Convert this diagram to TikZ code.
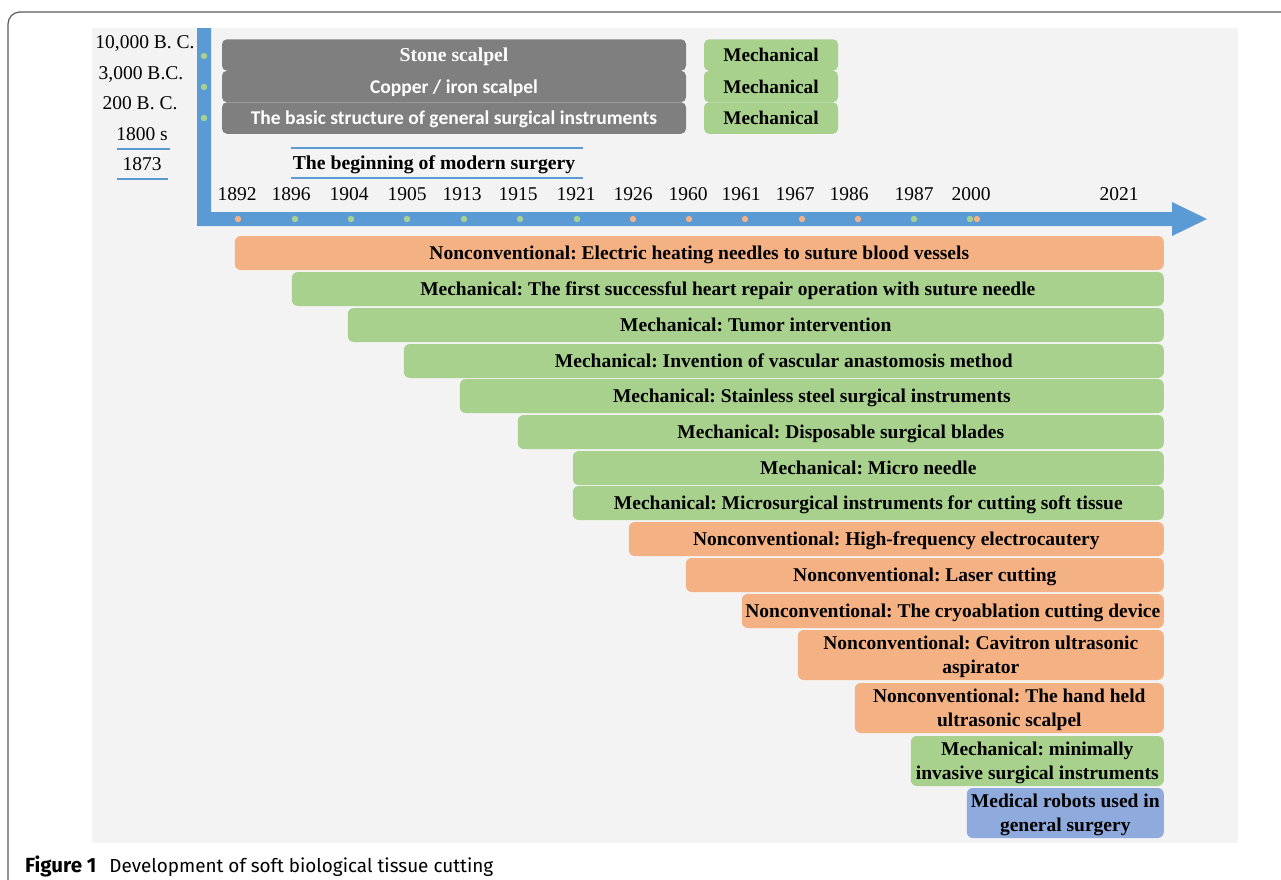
\documentclass[tikz,border=0pt]{standalone}
\usepackage{fontspec}
\setmainfont{Liberation Serif}
\newfontfamily\calib{Carlito}
\newfontfamily\capfont{Fira Sans}

\definecolor{panel}{HTML}{F3F3F3}
\definecolor{axisblue}{HTML}{5B9BD5}
\definecolor{mechgreen}{HTML}{A9D18E}
\definecolor{nonconv}{HTML}{F4B183}
\definecolor{robotblue}{HTML}{8FAADC}
\definecolor{stonegray}{HTML}{7F7F7F}
\definecolor{framegray}{HTML}{5A5A5A}

\newcommand{\barend}{1164}
\newcommand{\mbar}{\node[bar, fill=mechgreen]}
\newcommand{\nbar}{\node[bar, fill=nonconv]}
\newcommand{\rbar}{\node[bar, fill=robotblue]}
\newcommand{\gbox}{\node[erabox]}
\newcommand{\kbox}{\node[kindbox]}

\tikzset{
    bar/.style={rectangle, rounded corners=6pt, inner sep=0pt, anchor=east,
        minimum height=34pt, align=center, text depth=0pt,
        font=\fontsize{19.5}{24}\selectfont\bfseries},
    starts/.style={minimum width=\barend pt-#1pt},
    tall/.style={minimum height=50pt},
    erabox/.style={rectangle, rounded corners=5pt, fill=stonegray, text=white,
        minimum width=464pt, minimum height=31.5pt, inner sep=0pt, text depth=0pt,
        font=\fontsize{19.7}{20}\selectfont\bfseries},
    sansera/.style={font=\calib\fontsize{19.5}{20}\selectfont\bfseries},
    kindbox/.style={rectangle, rounded corners=5pt, fill=mechgreen,
        minimum width=134pt, minimum height=31.5pt, inner sep=0pt, text depth=0pt,
        font=\fontsize{19.3}{20}\selectfont\bfseries},
    yearlbl/.style={inner sep=0pt, text depth=0pt, font=\fontsize{19.5}{20}\selectfont},
    uline/.style={axisblue, line width=1.8pt},
}

\begin{document}
\frenchspacing
\begin{tikzpicture}[x=1pt, y=-1pt]
    \useasboundingbox (0,0) rectangle (1281,879);

    % frame and panel
    \draw[framegray, line width=1.2pt, rounded corners=12pt]
        (8,885) -- (8,12) -- (1290,12);
    \fill[panel] (92,28) rectangle (1238,843);

    % time axis
    \fill[axisblue] (197,28) -- (211,28) -- (211,212) -- (1172,212)
        -- (1172,202) -- (1207,219) -- (1172,236) -- (1172,226)
        -- (197,226) -- cycle;
    \foreach \y in {56,87,118}
        \fill[mechgreen] (204,\y) circle (3.2);
    \foreach \x/\c in {238/nonconv, 295/mechgreen, 351/mechgreen, 407/mechgreen,
        464/mechgreen, 520/mechgreen, 577/mechgreen, 633/nonconv, 689/nonconv,
        745/nonconv, 802/nonconv, 858/nonconv, 914/mechgreen, 970/mechgreen,
        977/nonconv}
        \fill[\c] (\x,219) circle (3.2);

    % early eras
    \node[yearlbl] (bc1) at (145,42) {10,000 B. C.};
    \node[yearlbl] (bc2) at (141,73) {3,000 B.C.};
    \node[yearlbl] (bc3) at (140,103) {200 B. C.};
    \node[yearlbl] (y1800) at (142,134) {1800 s};
    \node[yearlbl] (y1873) at (142,164) {1873};
    \draw[uline] (117,149) -- (170,149);
    \draw[uline] (117,179) -- (168,179);

    \gbox (e1) at (454,55) {Stone scalpel};
    \gbox[sansera] (e2) at (454,86.5) {Copper / iron scalpel};
    \gbox[sansera] (e3) at (454,118) {The basic structure of general surgical instruments};
    \kbox (k1) at (771,55) {Mechanical};
    \kbox (k2) at (771,86.5) {Mechanical};
    \kbox (k3) at (771,118) {Mechanical};

    \node[yearlbl, font=\fontsize{19.7}{20}\selectfont\bfseries] (modern) at (434,163) {The beginning of modern surgery};
    \draw[uline] (291,148) -- (583,148);
    \draw[uline] (291,178) -- (583,178);

    % years
    \foreach \x/\yr in {237/1892, 291/1896, 349/1904, 407/1905, 462/1913,
        518/1915, 576/1921, 633/1926, 688/1960, 741/1961, 795/1967,
        849/1986, 914/1987, 971/2000, 1119/2021}
        \node[yearlbl] (t\yr) at (\x,194) {\yr};

    % developments
    \nbar[starts=235] (d1) at (\barend,253) {Nonconventional: Electric heating needles to suture blood vessels};
    \mbar[starts=292] (d2) at (\barend,289) {Mechanical: The first successful heart repair operation with suture needle};
    \mbar[starts=348] (d3) at (\barend,325) {Mechanical: Tumor intervention};
    \mbar[starts=404] (d4) at (\barend,361) {Mechanical: Invention of vascular anastomosis method};
    \mbar[starts=460] (d5) at (\barend,396) {Mechanical: Stainless steel surgical instruments};
    \mbar[starts=518] (d6) at (\barend,432) {Mechanical: Disposable surgical blades};
    \mbar[starts=573] (d7) at (\barend,468) {Mechanical: Micro needle};
    \mbar[starts=573] (d8) at (\barend,503) {Mechanical: Microsurgical instruments for cutting soft tissue};
    \nbar[starts=629] (d9) at (\barend,539) {Nonconventional: High-frequency electrocautery};
    \nbar[starts=686] (d10) at (\barend,575) {Nonconventional: Laser cutting};
    \nbar[starts=742] (d11) at (\barend,611) {Nonconventional: The cryoablation cutting device};
    \nbar[starts=798, tall] (d12) at (\barend,655) {Nonconventional: Cavitron ultrasonic\\aspirator};
    \nbar[starts=855, tall] (d13) at (\barend,708) {Nonconventional: The hand held\\ultrasonic scalpel};
    \mbar[starts=911, tall] (d14) at (\barend,761) {Mechanical: minimally\\invasive surgical instruments};
    \rbar[starts=967, tall] (d15) at (\barend,813) {Medical robots used in\\general surgery};

    % caption
    \node[anchor=base west, inner sep=0pt, font=\capfont\fontsize{18.9}{20}\selectfont] (cap) at (25,872)
        {{\fontsize{20.5}{20}\selectfont\bfseries Figure 1}\hspace{13pt}Development of soft biological tissue cutting};
\end{tikzpicture}
\end{document}
